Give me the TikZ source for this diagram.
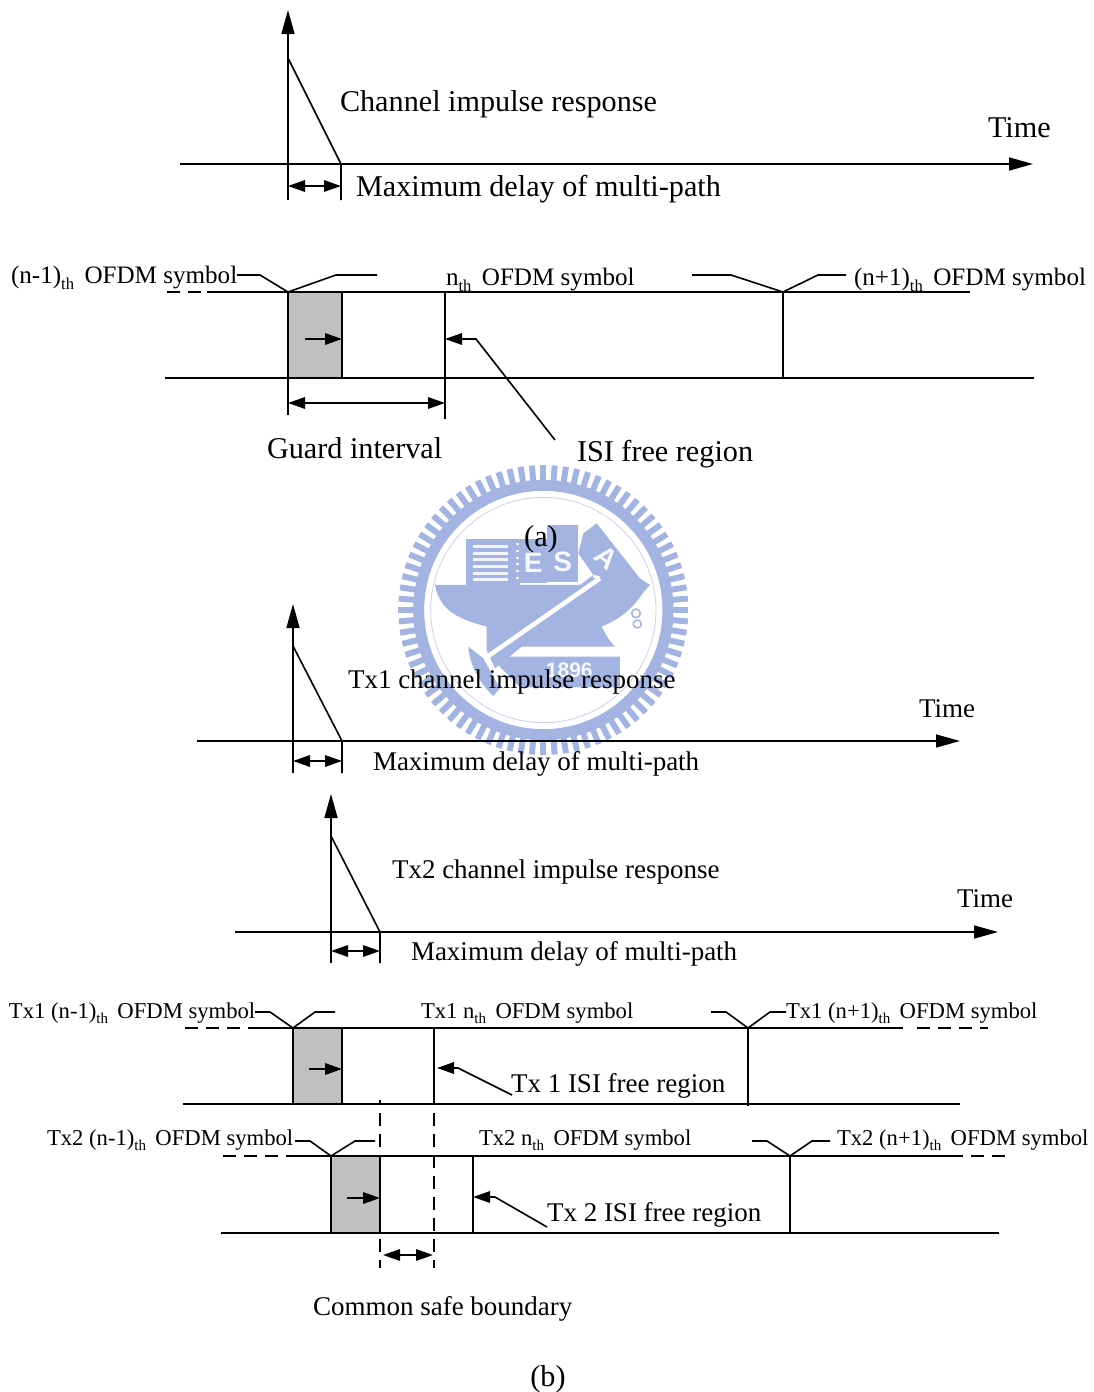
\documentclass[tikz,border=0pt]{standalone}
\usepackage{fontspec}
\setmainfont{Liberation Serif}
\newfontfamily\wmfont{Liberation Sans}
\usetikzlibrary{arrows.meta}
\definecolor{wm}{RGB}{163,180,226}
\definecolor{guardgray}{RGB}{192,192,192}
\newcommand\subs[1]{\raisebox{-.24em}{\scalebox{.66}{#1}}}
\newcommand\fs[1]{\fontsize{#1}{#1}\selectfont}
\tikzset{
  wire/.style={line width=1.6pt,black},
  arr/.style={wire,-{Triangle[length=17pt,width=11.5pt]}},
  bigarr/.style={wire,-{Triangle[length=24pt,width=13pt]}},
  dbl/.style={wire,{Triangle[length=17pt,width=11.5pt]}-{Triangle[length=17pt,width=11.5pt]}},
  dashline/.style={wire,dash pattern=on 13pt off 8pt},
  guardbox/.style={fill=guardgray,draw=black,line width=1.8pt},
  lbl/.style={anchor=base west,inner sep=0pt,outer sep=0pt,text=black},
  big/.style={lbl,font=\fs{30.2}},
  mid/.style={lbl,font=\fs{27}},
  sym/.style={lbl,font=\fs{25.1}},
  symb/.style={lbl,font=\fs{22.65}},
  wmtext/.style={text=white!90!wm,inner sep=0pt,font=\wmfont\bfseries\fs{28}},
}
\begin{document}
\begin{tikzpicture}[x=1pt,y=-1pt]
\useasboundingbox (0,0) rectangle (1093,1392);
%% watermark
\begin{scope}[shift={(380,450)},x=.3333pt,y=-.3333pt]
  \foreach \a in {0,4.5,...,355.5}
    \fill[wm,rotate around={\a:(490,480)}] (481,45) rectangle (499,110);
  \draw[wm,line width=11pt] (490,480) circle[radius=374];
  \draw[wm!60,line width=.8pt] (490,480) circle[radius=338];
  \fill[wm] (258,268) rectangle (420,405);
  \foreach \yy in {285,305,325,345,365,385} \fill[white!85!wm] (280,\yy) rectangle (385,\yy+9);
  \fill[wm] (420,268) rectangle (500,400);
  \foreach \yy in {280,300,320,340,360,380} \fill[white!85!wm] (408,\yy) rectangle (418,\yy+6);
  \fill[wm] (500,225) rectangle (595,395);
  \fill[wm] (610,250) -- (650,220) -- (780,385) -- (810,405) -- (600,405) -- (640,375) -- (595,310) -- cycle;
  \fill[wm] (165,405) -- (810,405) .. controls (775,440) and (760,490) .. (665,530) .. controls (680,560) and (690,575) .. (705,590) -- (425,590) -- (345,655) -- (320,600) -- (320,530) .. controls (250,510) and (180,490) .. cycle;
  \fill[wm] (265,590) -- (310,625) -- (360,715) -- (340,738) .. controls (300,700) and (270,650) .. cycle;
  \fill[wm] (385,620) -- (720,620) -- (720,712) -- (420,712) -- (350,640) -- cycle;
  \draw[white,line width=4.5pt] (660,385) -- (315,625);
  \draw[white,line width=3pt] (660,385) -- (640,378);
  \draw[wm,line width=1.5pt] (768,490) circle[radius=13] (772,522) circle[radius=12];
  \node[wmtext] (wmE) at (460,340) {E};
  \node[wmtext] (wmS) at (548,337) {S};
  \node[wmtext,rotate=-40] (wmA) at (680,322) {A};
  \node[wmtext,font=\wmfont\bfseries\fs{21}] (wmY) at (568,660) {1896};
\end{scope}
%% ---------- panel (a): impulse response
\coordinate (aO) at (288,164); \coordinate (aB) at (288,200); \coordinate (aT) at (288,10);
\coordinate (aP) at (288,58); \coordinate (aE) at (341,164); \coordinate (aEb) at (341,200);
\coordinate (aL) at (180,164); \coordinate (aR) at (1033,164);
\coordinate (aD1) at (288,186); \coordinate (aD2) at (341,186);
\draw[bigarr] (aB) -- (aT);
\draw[wire] (aP) -- (aE) -- (aEb);
\draw[bigarr] (aL) -- (aR);
\draw[dbl] (aD1) -- (aD2);
\node[big] (aCIR) at (340,111) {Channel impulse response};
\node[big] (aTime) at (988,137) {Time};
\node[big] (aMax) at (356,196) {Maximum delay of multi-path};
%% panel (a): symbols
\coordinate (sTL) at (288,292); \coordinate (sBL) at (288,378); \coordinate (sTG) at (342,292); \coordinate (sBG) at (342,378);
\coordinate (sDa) at (167,292); \coordinate (sDb) at (207,292); \coordinate (sEnd) at (970,292);
\coordinate (sBa) at (165,378); \coordinate (sBb) at (1034,378);
\coordinate (sNT) at (445,292); \coordinate (sNB) at (445,419); \coordinate (sRT) at (783,292); \coordinate (sRB) at (783,378);
\coordinate (sLo) at (288,415); \coordinate (sA1) at (305,339); \coordinate (sA2) at (342,339);
\coordinate (sG1) at (288,403); \coordinate (sG2) at (445,403);
\coordinate (sI1) at (555,440); \coordinate (sI2) at (476,339); \coordinate (sI3) at (445,339);
\node[guardbox,inner sep=0pt,minimum width=54pt,minimum height=86pt] (sGuard) at (315,335) {};
\draw[dashline] (sDa) -- (sDb);
\draw[wire] (sDb) -- (sEnd);
\draw[wire] (sBa) -- (sBb);
\draw[wire] (sTL) -- (sLo);
\draw[wire] (sNT) -- (sNB);
\draw[wire] (sRT) -- (sRB);
\draw[arr] (sA1) -- (sA2);
\draw[dbl] (sG1) -- (sG2);
\draw[arr] (sI1) -- (sI2) -- (sI3);
\coordinate (b1) at (237,275); \coordinate (b2) at (260,275); \coordinate (b3) at (336,275); \coordinate (b4) at (377,275);
\coordinate (c1) at (692,275); \coordinate (c2) at (731,275); \coordinate (c3) at (818,275); \coordinate (c4) at (846,275);
\draw[wire] (b1) -- (b2) -- (sTL) -- (b3) -- (b4);
\draw[wire] (c1) -- (c2) -- (sRT) -- (c3) -- (c4);
\node[sym] (sPrev) at (11,283.5) {(n-1)\subs{th}\, OFDM symbol};
\node[sym] (sCur) at (446,285.5) {n\subs{th}\, OFDM symbol};
\node[sym] (sNext) at (854,285.5) {(n+1)\subs{th}\, OFDM symbol};
\node[big] (sGI) at (267,458) {Guard interval};
\node[big] (sISI) at (577,461) {ISI free region};
\node[big,anchor=base] (capA) at (541,546) {(a)};
%% ---------- panel (b): Tx1 impulse response
\coordinate (pB) at (293,773); \coordinate (pT) at (293,604); \coordinate (pP) at (293,646);
\coordinate (pE) at (342,741); \coordinate (pEb) at (342,773); \coordinate (pL) at (197,741); \coordinate (pR) at (960,741);
\coordinate (pD1) at (293,761); \coordinate (pD2) at (342,761);
\draw[bigarr] (pB) -- (pT);
\draw[wire] (pP) -- (pE) -- (pEb);
\draw[bigarr] (pL) -- (pR);
\draw[dbl] (pD1) -- (pD2);
\node[mid] (pCIR) at (348,688) {Tx1 channel impulse response};
\node[mid] (pTime) at (919,717) {Time};
\node[mid] (pMax) at (373,770) {Maximum delay of multi-path};
%% Tx2 impulse response
\coordinate (qB) at (331,963); \coordinate (qT) at (331,794); \coordinate (qP) at (331,836);
\coordinate (qE) at (380,932); \coordinate (qEb) at (380,963); \coordinate (qL) at (235,932); \coordinate (qR) at (998,932);
\coordinate (qD1) at (331,951); \coordinate (qD2) at (380,951);
\draw[bigarr] (qB) -- (qT);
\draw[wire] (qP) -- (qE) -- (qEb);
\draw[bigarr] (qL) -- (qR);
\draw[dbl] (qD1) -- (qD2);
\node[mid] (qCIR) at (392,878.5) {Tx2 channel impulse response};
\node[mid] (qTime) at (957,907) {Time};
\node[mid] (qMax) at (411,960) {Maximum delay of multi-path};
%% Tx1 symbols
\node[guardbox,draw=none,inner sep=0pt,minimum width=49pt,minimum height=76pt] (uGuard) at (317.5,1066) {};
\coordinate (uTL) at (293,1028); \coordinate (uBL) at (293,1104); \coordinate (uTG) at (342,1028); \coordinate (uBG) at (342,1104);
\coordinate (uDa) at (185,1028); \coordinate (uDb) at (256,1028); \coordinate (uDc) at (903,1028); \coordinate (uDx) at (917,1028); \coordinate (uDd) at (988,1028);
\coordinate (uBa) at (183,1104); \coordinate (uBb) at (960,1104);
\coordinate (uNT) at (434,1028); \coordinate (uNB) at (434,1104); \coordinate (uRT) at (748,1028); \coordinate (uRB) at (748,1106);
\coordinate (uA1) at (309,1069); \coordinate (uA2) at (342,1069);
\coordinate (uI1) at (512,1095); \coordinate (uI2) at (458,1068); \coordinate (uI3) at (437,1068);
\draw[dashline] (uDa) -- (uDb);
\draw[wire] (uDb) -- (uDc);
\draw[dashline] (uDx) -- (uDd);
\draw[wire] (uBa) -- (uBb);
\draw[wire] (uTL) -- (uBL);
\draw[wire] (uTG) -- (uBG);
\draw[wire] (uNT) -- (uNB);
\draw[wire] (uRT) -- (uRB);
\draw[arr] (uA1) -- (uA2);
\draw[arr] (uI1) -- (uI2) -- (uI3);
\coordinate (d1) at (255,1012); \coordinate (d2) at (270,1012); \coordinate (d3) at (315,1012); \coordinate (d4) at (335,1012);
\coordinate (e1) at (711,1012); \coordinate (e2) at (726,1012); \coordinate (e3) at (770,1012); \coordinate (e4) at (786,1012);
\draw[wire] (d1) -- (d2) -- (uTL) -- (d3) -- (d4);
\draw[wire] (e1) -- (e2) -- (uRT) -- (e3) -- (e4);
\node[symb] (uPrev) at (9,1018) {Tx1 (n-1)\subs{th}\, OFDM symbol};
\node[symb] (uCur) at (421,1018) {Tx1 n\subs{th}\, OFDM symbol};
\node[symb] (uNext) at (786,1018) {Tx1 (n+1)\subs{th}\, OFDM symbol};
\node[mid] (uISI) at (511,1092) {Tx 1 ISI free region};
%% Tx2 symbols
\node[guardbox,draw=none,inner sep=0pt,minimum width=49pt,minimum height=77pt] (vGuard) at (355.5,1194.5) {};
\coordinate (vTL) at (331,1156); \coordinate (vBL) at (331,1233); \coordinate (vTG) at (380,1156); \coordinate (vBG) at (380,1233);
\coordinate (vDa) at (223,1156); \coordinate (vDb) at (293,1156); \coordinate (vDc) at (950,1156); \coordinate (vDd) at (1012,1156);
\coordinate (vBa) at (221,1233); \coordinate (vBb) at (999,1233);
\coordinate (vNT) at (473,1156); \coordinate (vNB) at (473,1233); \coordinate (vRT) at (790,1156); \coordinate (vRB) at (790,1233);
\coordinate (vA1) at (347,1198); \coordinate (vA2) at (380,1198);
\coordinate (vI1) at (547,1227); \coordinate (vI2) at (495,1197); \coordinate (vI3) at (473,1197);
\draw[dashline] (vDa) -- (vDb);
\draw[wire] (vDb) -- (vDc);
\draw[dashline] (vDc) -- (vDd);
\draw[wire] (vBa) -- (vBb);
\draw[wire] (vTL) -- (vBL);
\draw[wire] (vTG) -- (vBG);
\draw[wire] (vNT) -- (vNB);
\draw[wire] (vRT) -- (vRB);
\draw[arr] (vA1) -- (vA2);
\draw[arr] (vI1) -- (vI2) -- (vI3);
\coordinate (f1) at (295,1141); \coordinate (f2) at (310,1141); \coordinate (f3) at (355,1141); \coordinate (f4) at (375,1141);
\coordinate (g1) at (752,1141); \coordinate (g2) at (767,1141); \coordinate (g3) at (812,1141); \coordinate (g4) at (830,1141);
\draw[wire] (f1) -- (f2) -- (vTL) -- (f3) -- (f4);
\draw[wire] (g1) -- (g2) -- (vRT) -- (g3) -- (g4);
\node[symb] (vPrev) at (47,1145) {Tx2 (n-1)\subs{th}\, OFDM symbol};
\node[symb] (vCur) at (479,1145) {Tx2 n\subs{th}\, OFDM symbol};
\node[symb] (vNext) at (837,1145) {Tx2 (n+1)\subs{th}\, OFDM symbol};
\node[mid] (vISI) at (547,1221.5) {Tx 2 ISI free region};
%% common safe boundary
\coordinate (w1a) at (380,1100); \coordinate (w1b) at (380,1268); \coordinate (w2a) at (434,1104); \coordinate (w2b) at (434,1268);
\coordinate (wD1) at (383,1255); \coordinate (wD2) at (433,1255);
\draw[dashline,dash phase=8pt] (w1a) -- (w1b);
\draw[dashline,dash phase=12pt] (w2a) -- (w2b);
\draw[dbl] (wD1) -- (wD2);
\node[mid] (wLab) at (313,1315.5) {Common safe boundary};
\node[big,anchor=base] (capB) at (548,1386) {(b)};
\end{tikzpicture}
\end{document}
